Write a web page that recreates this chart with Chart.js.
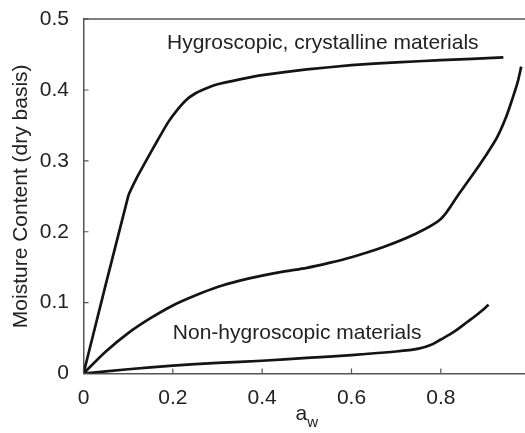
<!DOCTYPE html>
<html lang="en">
<head>
    <meta charset="UTF-8">
    <title>Moisture sorption isotherms</title>
    <script src="https://cdn.jsdelivr.net/npm/chart.js"></script>
    <style>
        html, body {
            margin: 0;
            padding: 0;
            background: #fff;
            overflow: hidden;
        }

        .chart-container {
            position: relative;
            width: 540px;
            height: 433px;
        }
    </style>
</head>
<body>
    <div class="chart-container">
        <canvas id="isothermChart"></canvas>
    </div>

    <script>
        // axis ticks
        const xTicks = [0, 0.2, 0.4, 0.6, 0.8, 1];
        const yTicks = [0, 0.1, 0.2, 0.3, 0.4, 0.5];

        // hygroscopic, crystalline materials
        const crystX = [0, 0.1, 0.12, 0.14, 0.165, 0.19, 0.21, 0.23, 0.25, 0.27, 0.3, 0.35, 0.4, 0.5, 0.6, 0.7, 0.8, 0.94];
        const crystY = [0, 0.25, 0.277, 0.30, 0.328, 0.355, 0.372, 0.386, 0.395, 0.401, 0.408, 0.415, 0.421, 0.429, 0.435, 0.439, 0.442, 0.446];

        // middle (amorphous) curve
        const midX = [0, 0.05, 0.1, 0.15, 0.2, 0.25, 0.3, 0.35, 0.4, 0.45, 0.5, 0.55, 0.6, 0.67, 0.74, 0.8, 0.84, 0.872, 0.9, 0.925, 0.945, 0.962, 0.972, 0.98];
        const midY = [0, 0.031, 0.057, 0.078, 0.096, 0.11, 0.122, 0.131, 0.138, 0.144, 0.149, 0.156, 0.164, 0.178, 0.196, 0.218, 0.253, 0.281, 0.307, 0.332, 0.36, 0.391, 0.411, 0.433];

        // non-hygroscopic materials
        const nonX = [0, 0.1, 0.2, 0.3, 0.4, 0.5, 0.6, 0.7, 0.75, 0.78, 0.8, 0.83, 0.86, 0.885, 0.907];
        const nonY = [0, 0.006, 0.011, 0.015, 0.018, 0.022, 0.026, 0.031, 0.035, 0.041, 0.048, 0.059, 0.073, 0.085, 0.097];

        // curve labels (text, anchor x, baseline y in data units)
        const labelTexts = ['Hygroscopic, crystalline materials', 'Non-hygroscopic materials'];
        const labelX = [0.187, 0.2];
        const labelY = [0.458, 0.049];

        const FONT = '"Liberation Sans", Arial, sans-serif';

        function toPoints(xs, ys) {
            return xs.map((x, i) => ({ x: x, y: ys[i] }));
        }

        function curve(xs, ys, tension) {
            return {
                data: toPoints(xs, ys),
                showLine: true,
                borderColor: '#141414',
                borderWidth: 2.7,
                borderJoinStyle: 'round',
                pointRadius: 0,
                fill: false,
                tension: tension
            };
        }

        // inward tick marks, top frame line, curve labels and a_w title
        const decorations = {
            id: 'decorations',
            afterDraw(chart) {
                const ctx = chart.ctx;
                const area = chart.chartArea;
                const xs = chart.scales.x;
                const ys = chart.scales.y;
                ctx.save();

                ctx.strokeStyle = '#555';
                ctx.lineWidth = 1.5;
                ctx.beginPath();
                ctx.moveTo(area.left, area.top);
                ctx.lineTo(area.right, area.top);
                ctx.stroke();

                ctx.lineWidth = 1.2;
                ctx.beginPath();
                xTicks.forEach(v => {
                    const px = xs.getPixelForValue(v);
                    ctx.moveTo(px, area.bottom);
                    ctx.lineTo(px, area.bottom - 5);
                });
                yTicks.forEach(v => {
                    const py = ys.getPixelForValue(v);
                    ctx.moveTo(area.left, py);
                    ctx.lineTo(area.left + 5, py);
                });
                ctx.stroke();

                ctx.fillStyle = '#222';
                ctx.font = '21px ' + FONT;
                ctx.textAlign = 'left';
                ctx.textBaseline = 'alphabetic';
                labelTexts.forEach((t, i) => {
                    ctx.fillText(t, xs.getPixelForValue(labelX[i]), ys.getPixelForValue(labelY[i]));
                });

                // x-axis title with subscript
                const cx = (area.left + area.right) / 2;
                ctx.font = '21px ' + FONT;
                const aw = ctx.measureText('a').width;
                ctx.font = '15px ' + FONT;
                const ww = ctx.measureText('w').width;
                const startX = cx - (aw + ww) / 2;
                ctx.font = '21px ' + FONT;
                ctx.fillText('a', startX, 420);
                ctx.font = '15px ' + FONT;
                ctx.fillText('w', startX + aw, 427);

                ctx.restore();
            }
        };

        const ctx = document.getElementById('isothermChart').getContext('2d');

        new Chart(ctx, {
            type: 'scatter',
            data: {
                datasets: [
                    curve(crystX, crystY, 0.15),
                    curve(midX, midY, 0.3),
                    curve(nonX, nonY, 0.3)
                ]
            },
            options: {
                responsive: true,
                maintainAspectRatio: false,
                animation: false,
                layout: {
                    padding: { top: 17, right: 9, left: 0, bottom: 0 }
                },
                plugins: {
                    legend: { display: false },
                    tooltip: { enabled: false }
                },
                scales: {
                    x: {
                        type: 'linear',
                        min: 0,
                        max: 1,
                        grid: { display: false },
                        border: { display: true, color: '#555', width: 1.5 },
                        afterBuildTicks(scale) {
                            scale.ticks = xTicks.map(v => ({ value: v }));
                        },
                        afterFit(scale) {
                            scale.height = 59.5;
                        },
                        ticks: {
                            color: '#222',
                            padding: 4,
                            maxRotation: 0,
                            font: { family: FONT, size: 21 },
                            callback: v => String(v)
                        }
                    },
                    y: {
                        type: 'linear',
                        min: 0,
                        max: 0.5,
                        grid: { display: false },
                        border: { display: true, color: '#555', width: 1.5 },
                        afterBuildTicks(scale) {
                            scale.ticks = yTicks.map(v => ({ value: v }));
                        },
                        afterFit(scale) {
                            scale.width = 83.5;
                        },
                        ticks: {
                            color: '#222',
                            padding: 6.5,
                            font: { family: FONT, size: 21 },
                            callback: v => String(v)
                        },
                        title: {
                            display: true,
                            text: 'Moisture Content (dry basis)',
                            color: '#222',
                            font: { family: FONT, size: 21 },
                            padding: { top: 9, bottom: 0 }
                        }
                    }
                }
            },
            plugins: [decorations]
        });
    </script>
</body>
</html>
